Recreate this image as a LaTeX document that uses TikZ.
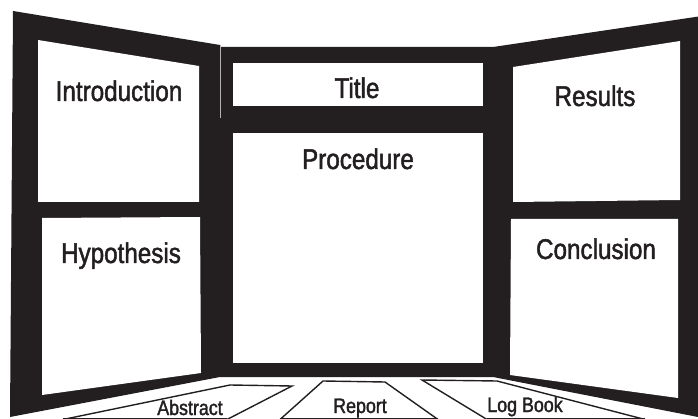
\documentclass[tikz,border=0pt]{standalone}
\usepackage{fontspec}
\setmainfont{Liberation Sans}[FakeStretch=0.85,FakeBold=1.6]
\definecolor{ink}{RGB}{35,31,32}
\begin{document}
\begin{tikzpicture}[x=1pt,y=-1pt,
  board/.style={fill=ink},
  panel/.style={fill=white},
  big/.style={text=ink,font=\fontsize{28.5}{28.5}\selectfont,inner sep=0pt,anchor=base},
  small/.style={text=ink,font=\fontsize{21}{21}\selectfont,inner sep=0pt,anchor=base},
  item/.style={draw=ink,fill=white,line width=1.4pt,line join=miter}]
\useasboundingbox (0,0) rectangle (698,419);
\clip (0,0) rectangle (698,419);
% board
\fill[board] (13,11) -- (220,45) -- (220,47) -- (493,47) -- (702,16) -- (702,419)
  -- (698,417) -- (493,377) -- (220,377) -- (10,417) -- cycle;
\draw[gray!60,line width=0.5pt] (220,45) -- (220,118);
% white panels
\fill[panel] (38,40) -- (199,66) -- (199,202) -- (38,202) -- cycle;
\fill[panel] (42,218) -- (200,217) -- (201,373) -- (42,395) -- cycle;
\fill[panel] (233,63) rectangle (483,106);
\fill[panel] (233,133) rectangle (483,363);
\fill[panel] (513,67) -- (680,41) -- (680,200) -- (513,202) -- cycle;
\fill[panel] (511,219) -- (678,219) -- (678,398) -- (510,375) -- cycle;
% items on the table
\draw[item] (63,419.5) -- (230,385) -- (292,386) -- (227,419.5);
\draw[item] (280,419.5) -- (323,381) -- (385,382) -- (438,419.5);
\draw[item] (487,419.5) -- (422,380) -- (497,381) -- (645,419.5);
\draw[ink,line width=1pt] (63,418.5) -- (227,418.5) (280,418.5) -- (438,418.5) (487,418.5) -- (645,418.5);
% labels
\node[big] (intro) at (119,101) {Introduction};
\node[big] (title) at (357,98) {Title};
\node[big] (proc) at (358,169) {Procedure};
\node[big] (res) at (595,106) {Results};
\node[big] (hyp) at (121,263) {Hypothesis};
\node[big] (conc) at (596,259) {Conclusion};
\node[small] (abs) at (190,415) {Abstract};
\node[small] (rep) at (360,413) {Report};
\node[small] (log) at (525,412) {Log Book};
\end{tikzpicture}
\end{document}
